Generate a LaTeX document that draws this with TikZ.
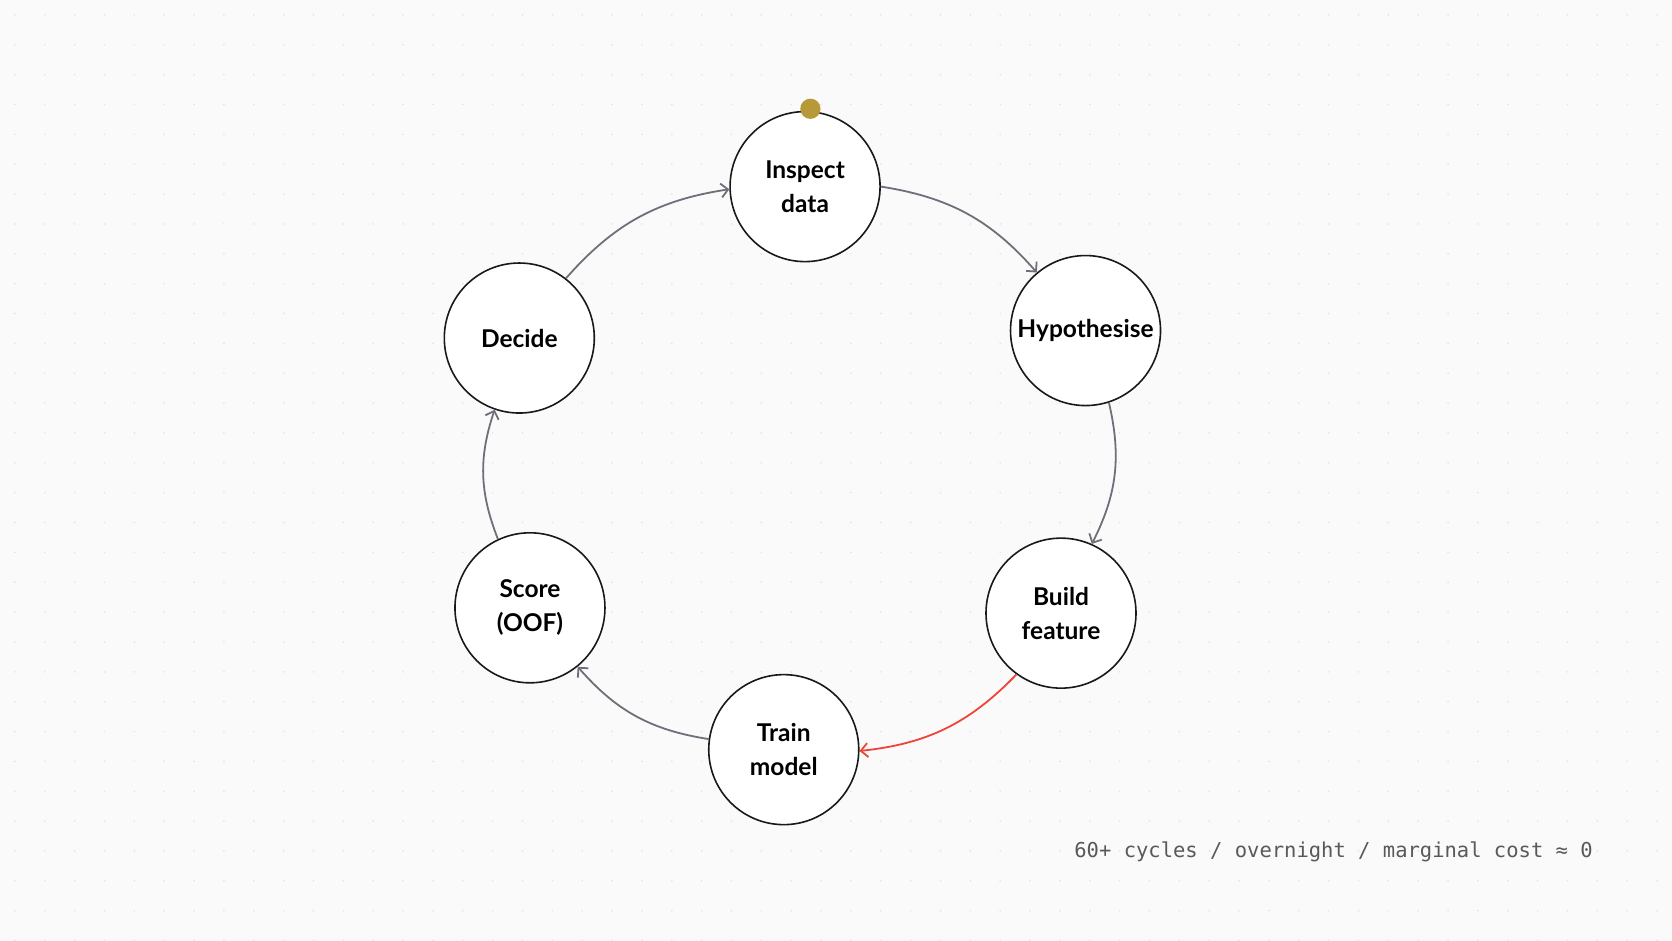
\documentclass[tikz,border=0pt]{standalone}
\usepackage{fontspec}
\setmainfont{Lato}
\newfontfamily\monof{DejaVu Sans Mono}
\usetikzlibrary{arrows.meta}
\definecolor{bg}{HTML}{FAFAFA}
\definecolor{arr}{HTML}{6E7079}
\definecolor{redarr}{HTML}{F0443A}
\definecolor{gold}{HTML}{B8993A}
\begin{document}
\begin{tikzpicture}[x=1.0663pt,y=-1.0663pt,
  stage/.style={circle,draw=black!90,line width=1.6pt,fill=white,minimum size=150pt,inner sep=0pt,align=center,font=\fontsize{24.5}{34}\selectfont\bfseries},
  flow/.style={draw=arr,line width=1.8pt,-{Straight Barb[length=7pt,width=14pt,line width=1.8pt]},bend left=20}]
\fill[bg] (0,0) rectangle (1568,882);
\useasboundingbox (0,0) rectangle (1568,882);
\foreach \i in {0,...,55}{\foreach \j in {0,...,31}{\fill[black!10] (14+\i*28,14+\j*28) circle (0.9);}}
\node[stage] (ins) at (755,175) {Inspect\\data};
\node[stage] (hyp) at (1018,310) {Hypothesise};
\node[stage] (bui) at (995,575) {Build\\feature};
\node[stage] (tra) at (735,703) {Train\\model};
\node[stage] (sco) at (497,570) {Score\\(OOF)};
\node[stage] (dec) at (487,317) {Decide};
\fill[gold] (760,102) circle (9.5);
\draw[flow] (ins.0) to (hyp.130);
\draw[flow] (hyp.-72) to (bui.66);
\draw[flow,draw=redarr] (bui.234) to (tra.359);
\draw[flow] (tra.172) to (sco.-51);
\draw[flow] (sco.115) to (dec.251);
\draw[flow] (dec.52) to (ins.182);
\node[anchor=east,text=black!65,font=\monof\fontsize{20.5}{24}\selectfont] (cap) at (1497,799) {60+ cycles / overnight / marginal cost ≈ 0};
\end{tikzpicture}
\end{document}
